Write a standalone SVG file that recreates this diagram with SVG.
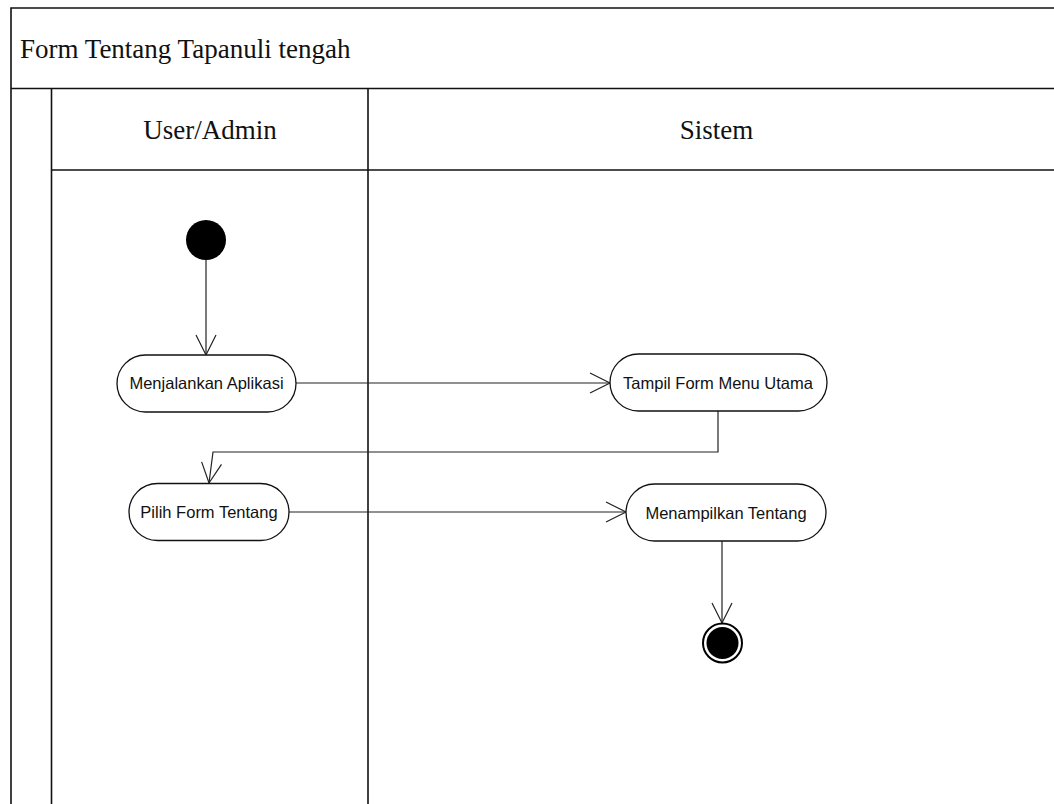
<svg xmlns="http://www.w3.org/2000/svg" width="1054" height="804" viewBox="0 0 1054 804">
<style>
.lane{fill:none;stroke:#111;stroke-width:1.6}
.hdr{font-family:"Liberation Serif","Times New Roman",serif;font-size:27px;fill:#111}
.act{fill:#fff;stroke:#111;stroke-width:1.3}
.lbl{font-family:"Liberation Sans",Arial,sans-serif;font-size:16.5px;fill:#111;text-anchor:middle}
.edge{fill:none;stroke:#222;stroke-width:1.2}
</style>
<defs>
<marker id="arr" viewBox="0 0 24 24" markerWidth="24" markerHeight="24" refX="22" refY="12" orient="auto" markerUnits="userSpaceOnUse">
<path d="M2 2 L22 12 L2 22" fill="none" stroke="#222" stroke-width="1.2"/>
</marker>
</defs>
<rect width="1054" height="804" fill="#fff"/>
<g id="pool">
<path class="lane" d="M1060 8 H11 V804"/>
<path class="lane" d="M11 88.5 H1060" stroke-width="2.2"/>
<path class="lane" d="M51.5 88.5 V804"/>
<path class="lane" d="M368 88.5 V804"/>
<path class="lane" d="M51.5 170 H1060"/>
<text class="hdr" x="20" y="58">Form Tentang Tapanuli tengah</text>
</g>
<g id="lane-user"><text class="hdr" x="210" y="139" text-anchor="middle">User/Admin</text></g>
<g id="lane-sistem"><text class="hdr" x="716.5" y="139" text-anchor="middle">Sistem</text></g>
<g id="connectors">
<path class="edge" d="M206 260 V355" marker-end="url(#arr)"/>
<path class="edge" d="M296 383 H610" marker-end="url(#arr)"/>
<path class="edge" d="M718 411 V452 H213 L209 483" marker-end="url(#arr)"/>
<path class="edge" d="M289 512 H626" marker-end="url(#arr)"/>
<path class="edge" d="M722 541 V623" marker-end="url(#arr)"/>
</g>
<g id="start"><circle cx="206" cy="240" r="20" fill="#000"/></g>
<g id="menjalankan">
<rect class="act" x="117" y="355" width="179" height="57" rx="28.5"/>
<text class="lbl" x="206.5" y="389">Menjalankan Aplikasi</text>
</g>
<g id="tampil">
<rect class="act" x="610" y="354" width="217" height="57" rx="28.5"/>
<text class="lbl" x="718" y="389">Tampil Form Menu Utama</text>
</g>
<g id="pilih">
<rect class="act" x="129" y="483.5" width="160" height="57" rx="28.5"/>
<text class="lbl" x="209" y="518">Pilih Form Tentang</text>
</g>
<g id="menampilkan">
<rect class="act" x="626" y="484" width="200" height="57" rx="28.5"/>
<text class="lbl" x="726" y="519">Menampilkan Tentang</text>
</g>
<g id="end">
<circle cx="722.5" cy="643" r="19.5" fill="#fff" stroke="#000" stroke-width="2"/>
<circle cx="722.5" cy="643" r="16" fill="#000"/>
</g>
</svg>
